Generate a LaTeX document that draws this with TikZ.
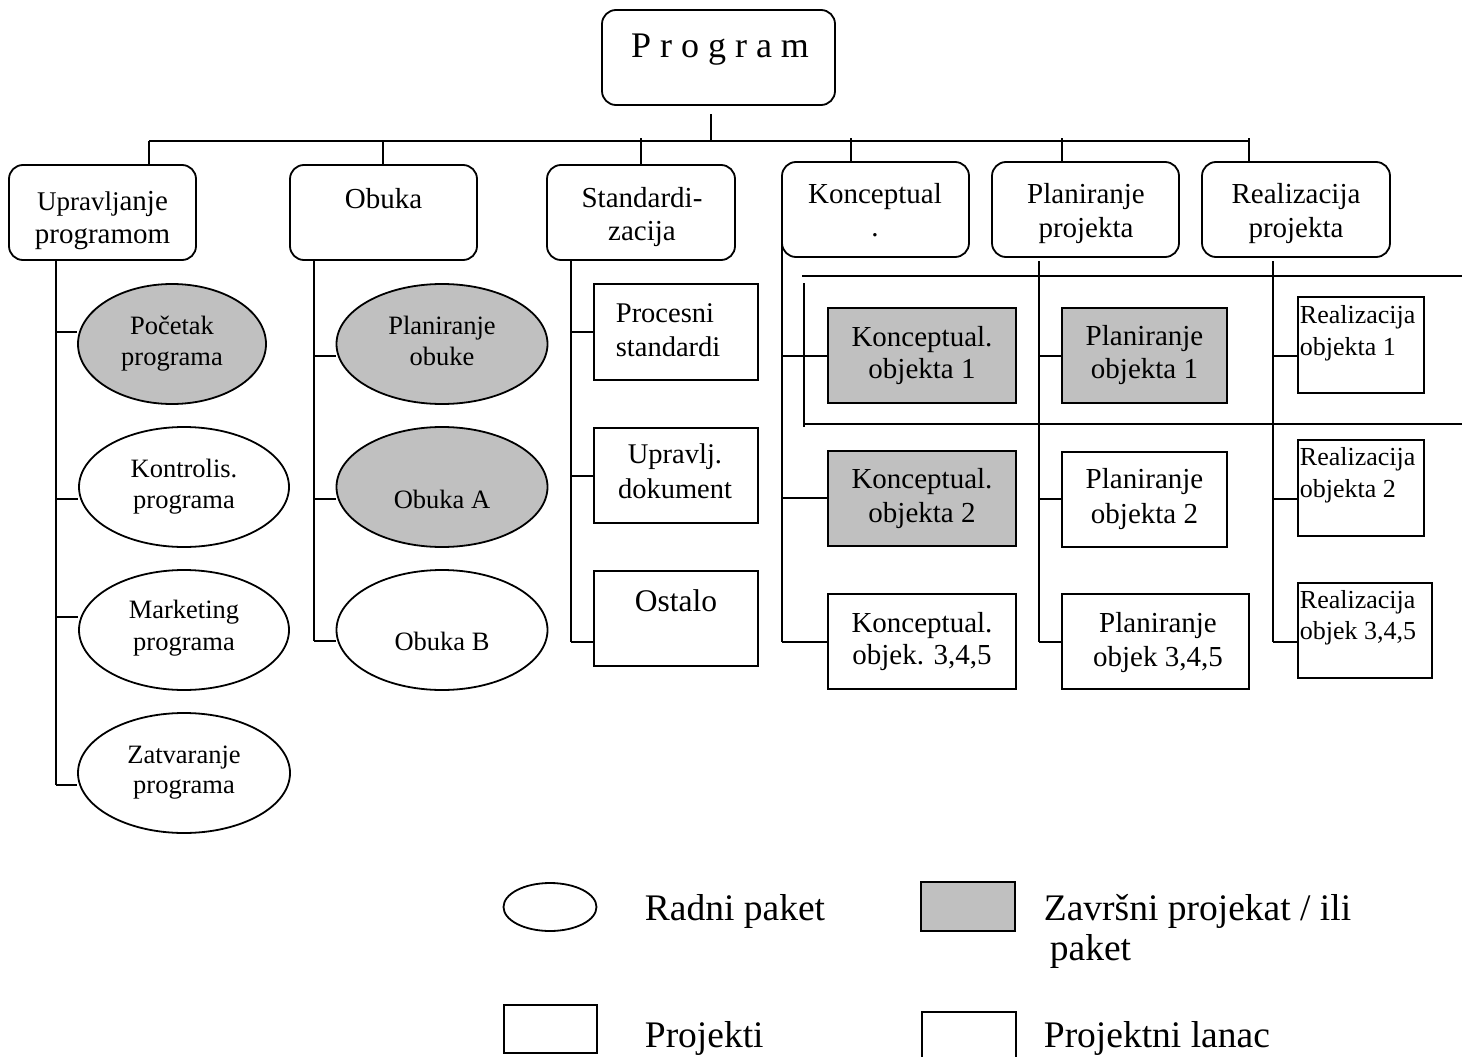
\documentclass[tikz,border=0pt]{standalone}
\usepackage{fontspec}
\setmainfont{Liberation Serif}
\usetikzlibrary{shapes.geometric}
\definecolor{pkgray}{RGB}{192,192,192}
\begin{document}
\begin{tikzpicture}[x=1pt,y=-1pt,line width=1.8pt,
  sz/.style 2 args={minimum width=#1pt,minimum height=#2pt},
  rbox/.style={draw,rectangle,rounded corners=14pt,inner sep=0pt},
  pbox/.style={draw,rectangle,inner sep=0pt},
  ell/.style={draw,ellipse,inner sep=0pt},
  done/.style={fill=pkgray},
  tx/.style={inner sep=0pt,anchor=base},
  txl/.style={inner sep=0pt,anchor=base west},
  fprog/.style={font=\fontsize{36pt}{40pt}\selectfont},
  fone/.style={font=\fontsize{29pt}{33pt}\selectfont},
  fell/.style={font=\fontsize{26.5pt}{30pt}\selectfont},
  fstd/.style={font=\fontsize{28.5pt}{32pt}\selectfont},
  fobj/.style={font=\fontsize{29pt}{32pt}\selectfont},
  freal/.style={font=\fontsize{26pt}{30pt}\selectfont},
  fleg/.style={font=\fontsize{37.5pt}{40pt}\selectfont}]
\useasboundingbox (0,0) rectangle (1462,1057);

% ---- top level and first level ----
\node[rbox,sz={233}{95}] (prog) at (718.5,57.5) {};
\node[tx,fprog] (progt) at (720,58) {P r o g r a m};

\node[rbox,sz={187}{95}] (upr) at (102.5,212.5) {};
\node[rbox,sz={187}{95}] (obu) at (383.5,212.5) {};
\node[rbox,sz={188}{95}] (std) at (641,212.5) {};
\node[rbox,sz={187}{95}] (kon) at (875.5,209.5) {};
\node[rbox,sz={187}{95}] (pla) at (1085.5,209.5) {};
\node[rbox,sz={188}{95}] (rea) at (1296,209.5) {};

\node[tx,fone] (uprt1) at (102.5,210) {{\fontsize{27pt}{30pt}\selectfont Upravlj}anje};
\node[tx,fone] (uprt2) at (102.5,243) {programom};
\node[tx,fone] (obut1) at (383.5,208) {Obuka};
\node[tx,fone] (stdt1) at (642,207) {Standardi-};
\node[tx,fone] (stdt2) at (642,240) {zacija};
\node[tx,fone] (kont1) at (875,203) {Konceptual};
\node[tx,fone] (kont2) at (875,236) {.};
\node[tx,fone] (plat1) at (1086,203) {Planiranje};
\node[tx,fone] (plat2) at (1086,237) {projekta};
\node[tx,fone] (reat1) at (1296,203) {Realizacija};
\node[tx,fone] (reat2) at (1296,237) {projekta};

% bus between the program and its parts
\coordinate (pstub) at (711,114);
\coordinate (busl) at (149,141);
\coordinate (busr) at (1249,141);
\draw (pstub) -- (pstub |- busl);
\draw (busl) -- (busr);
\coordinate (d1) at (149,141);
\coordinate (d2) at (383,141);
\coordinate (d3) at (641,138);
\coordinate (d4) at (851,138);
\coordinate (d5) at (1062,138);
\coordinate (d6) at (1249,138);
\draw (d1) -- (d1 |- upr.north);
\draw (d2) -- (d2 |- obu.north);
\draw (d3) -- (d3 |- std.north);
\draw (d4) -- (d4 |- kon.north);
\draw (d5) -- (d5 |- pla.north);
\draw (d6) -- (d6 |- rea.north);

% ---- column 1: work packages of programme management ----
\node[ell,done,sz={188}{120}] (poc) at (172,344) {};
\node[ell,sz={210}{120}] (ktr) at (184,487) {};
\node[ell,sz={210}{120}] (mrk) at (184,630) {};
\node[ell,sz={212}{120}] (zat) at (184,773) {};
\node[tx,fell] (poct1) at (172,334) {Početak};
\node[tx,fell] (poct2) at (172,365) {programa};
\node[tx,fell] (ktrt1) at (184,477) {Kontrolis.};
\node[tx,fell] (ktrt2) at (184,508) {programa};
\node[tx,fell] (mrkt1) at (184,618) {Marketing};
\node[tx,fell] (mrkt2) at (184,650) {programa};
\node[tx,fell] (zatt1) at (184,763) {Zatvaranje};
\node[tx,fell] (zatt2) at (184,793) {programa};

\coordinate (t1a) at (56,332);
\coordinate (t1b) at (56,499);
\coordinate (t1c) at (56,617);
\coordinate (t1d) at (56,785);
\draw (upr.south -| t1a) -- (t1d);
\draw (t1a) -- (t1a -| poc.west);
\draw (t1b) -- (t1b -| ktr.west);
\draw (t1c) -- (t1c -| mrk.west);
\draw (t1d) -- (t1d -| zat.west);

% ---- column 2: training ----
\node[ell,done,sz={211}{120}] (plo) at (442,344) {};
\node[ell,done,sz={211}{120}] (oba) at (442,487) {};
\node[ell,sz={211}{120}] (obb) at (442,630) {};
\node[tx,fell] (plot1) at (442,334) {Planiranje};
\node[tx,fell] (plot2) at (442,365) {obuke};
\node[tx,fell] (obat1) at (442,508) {Obuka A};
\node[tx,fell] (obbt1) at (442,650) {Obuka B};

\coordinate (t2a) at (314,356);
\coordinate (t2b) at (314,499);
\coordinate (t2c) at (314,641);
\draw (obu.south -| t2a) -- (t2c);
\draw (t2a) -- (t2a -| plo.west);
\draw (t2b) -- (t2b -| oba.west);
\draw (t2c) -- (t2c -| obb.west);

% ---- column 3: standardisation ----
\node[pbox,sz={164}{96}] (prc) at (676,332) {};
\node[pbox,sz={164}{95}] (upd) at (676,475.5) {};
\node[pbox,sz={164}{95}] (ost) at (676,618.5) {};
\node[txl,fstd] (prct1) at (615,322) {Procesni};
\node[txl,fstd] (prct2) at (615,356) {standardi};
\node[tx,fstd] (updt1) at (675,463) {Upravlj.};
\node[tx,fstd] (updt2) at (675,498) {dokument};
\node[tx,font=\fontsize{31.5pt}{34pt}\selectfont] (ostt1) at (676,611) {Ostalo};

\coordinate (t3a) at (571,332);
\coordinate (t3b) at (571,476);
\coordinate (t3c) at (571,642);
\draw (std.south -| t3a) -- (t3c);
\draw (t3a) -- (t3a -| prc.west);
\draw (t3b) -- (t3b -| upd.west);
\draw (t3c) -- (t3c -| ost.west);

% ---- column 4: conceptual design ----
\node[pbox,done,sz={188}{95}] (ko1) at (922,355.5) {};
\node[pbox,done,sz={188}{95}] (ko2) at (922,498.5) {};
\node[pbox,sz={188}{95}] (ko3) at (922,641.5) {};
\node[tx,fobj] (ko1t1) at (922,346) {Konceptual.};
\node[tx,fobj] (ko1t2) at (922,378) {objekta 1};
\node[tx,fobj] (ko2t1) at (922,488) {Konceptual.};
\node[tx,fobj] (ko2t2) at (922,522) {objekta 2};
\node[tx,fobj] (ko3t1) at (922,632) {Konceptual.};
\node[tx,fobj] (ko3t2) at (922,664) {objek. 3,4,5};

\coordinate (t4top) at (782,236);
\coordinate (t4a) at (782,356);
\coordinate (t4b) at (782,498);
\coordinate (t4c) at (782,642);
\draw (t4top) -- (t4c);
\draw (t4a) -- (t4a -| ko1.west);
\draw (t4b) -- (t4b -| ko2.west);
\draw (t4c) -- (t4c -| ko3.west);

% ---- column 5: project planning ----
\node[pbox,done,sz={165}{95}] (pl1) at (1144.5,355.5) {};
\node[pbox,sz={165}{95}] (pl2) at (1144.5,499.5) {};
\node[pbox,sz={187}{95}] (pl3) at (1155.5,641.5) {};
\node[tx,fobj] (pl1t1) at (1144.5,345) {Planiranje};
\node[tx,fobj] (pl1t2) at (1144.5,378) {objekta 1};
\node[tx,fobj] (pl2t1) at (1144.5,488) {Planiranje};
\node[tx,fobj] (pl2t2) at (1144.5,523) {objekta 2};
\node[tx,fobj] (pl3t1) at (1158,632) {Planiranje};
\node[tx,fobj] (pl3t2) at (1158,666) {objek 3,4,5};

\coordinate (t5top) at (1039,261);
\coordinate (t5a) at (1039,356);
\coordinate (t5b) at (1039,499);
\coordinate (t5c) at (1039,642);
\draw (t5top) -- (t5c);
\draw (t5a) -- (t5a -| pl1.west);
\draw (t5b) -- (t5b -| pl2.west);
\draw (t5c) -- (t5c -| pl3.west);

% ---- column 6: project realisation ----
\node[pbox,sz={126}{96}] (re1) at (1361,345) {};
\node[pbox,sz={126}{96}] (re2) at (1361,488) {};
\node[pbox,sz={134}{95}] (re3) at (1365,630.5) {};
\node[txl,freal] (re1t1) at (1299,323) {Realizacija};
\node[txl,freal] (re1t2) at (1299,355) {objekta 1};
\node[txl,freal] (re2t1) at (1299,465) {Realizacija};
\node[txl,freal] (re2t2) at (1299,497) {objekta 2};
\node[txl,freal] (re3t1) at (1299,608) {Realizacija};
\node[txl,freal] (re3t2) at (1299,639) {objek 3,4,5};

\coordinate (t6top) at (1273,261);
\coordinate (t6a) at (1273,356);
\coordinate (t6b) at (1273,499);
\coordinate (t6c) at (1273,642);
\draw (t6top) -- (t6c);
\draw (t6a) -- (t6a -| re1.west);
\draw (t6b) -- (t6b -| re2.west);
\draw (t6c) -- (t6c -| re3.west);

% project chain band around the first objects
\coordinate (chtl) at (802,276);
\coordinate (chtr) at (1462,276);
\coordinate (chbl) at (804,424);
\coordinate (chbr) at (1462,424);
\coordinate (chvt) at (804,283);
\coordinate (chvb) at (804,427);
\draw (chtl) -- (chtr);
\draw (chbl) -- (chbr);
\draw (chvt) -- (chvb);

% ---- legend ----
\node[ell,sz={93}{48}] (lgell) at (550,907) {};
\node[txl,fleg] (lgellt) at (644,920) {Radni paket};
\node[pbox,done,sz={94}{49}] (lggray) at (968,906.5) {};
\node[txl,fleg] (lggrayt1) at (1043,920) {Završni projekat / ili};
\node[txl,fleg] (lggrayt2) at (1049,960) {paket};
\node[pbox,sz={93}{48}] (lgproj) at (550.5,1029) {};
\node[txl,fleg] (lgprojt) at (644,1047) {Projekti};
\node[pbox,sz={94}{63}] (lgchain) at (969,1043.5) {};
\node[txl,fleg] (lgchaint) at (1043,1047) {Projektni lanac};
\end{tikzpicture}
\end{document}
